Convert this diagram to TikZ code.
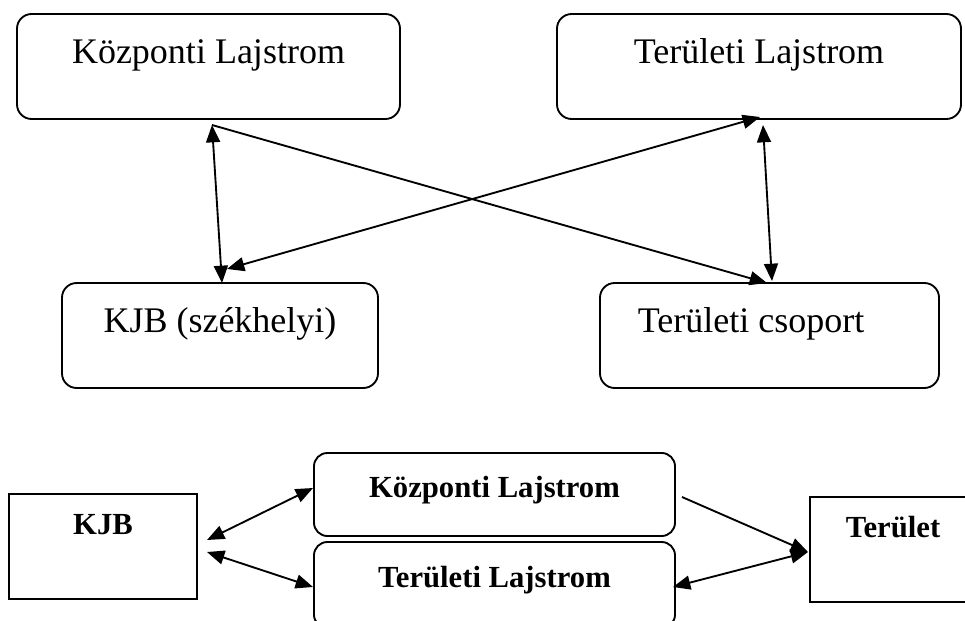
\documentclass[tikz,border=0pt]{standalone}
\usepackage{fontspec}
\setmainfont{Liberation Serif}
\usetikzlibrary{arrows.meta}

\begin{document}
\begin{tikzpicture}[
  x=0.75pt, y=-0.75pt,
  line width=1.4pt,
  roundbox/.style={draw, rounded corners=11pt, inner sep=0pt, outer sep=0pt},
  plainbox/.style={draw, inner sep=0pt, outer sep=0pt},
  bigtext/.style={inner sep=0pt, font=\fontsize{27}{30}\selectfont},
  boldtext/.style={inner sep=0pt, font=\fontsize{23}{26}\selectfont\bfseries},
  tip/.tip={Triangle[length=13pt, width=10.5pt]},
  link/.style={line width=1.4pt, -tip},
  dlink/.style={line width=1.4pt, tip-tip}
]
\useasboundingbox (0,0) rectangle (965,621);
\clip (0,0) rectangle (965,621);

% upper diagram: registers and local units
\node[roundbox, minimum width=383*0.75pt, minimum height=105*0.75pt] (kozp) at (208.5,66.5) {};
\node[roundbox, minimum width=404*0.75pt, minimum height=105*0.75pt] (terl) at (759,66.5) {};
\node[roundbox, minimum width=316*0.75pt, minimum height=105*0.75pt] (kjbsz) at (220,335.5) {};
\node[roundbox, minimum width=339*0.75pt, minimum height=105*0.75pt] (tcsop) at (769.5,335.5) {};

\node[bigtext, anchor=base] (kozpT) at (208.5,63) {Központi Lajstrom};
\node[bigtext, anchor=base] (terlT) at (759,63) {Területi Lajstrom};
\node[bigtext, anchor=base] (kjbszT) at (220,332) {KJB (székhelyi)};
\node[bigtext, anchor=base west] (tcsopT) at (637,332) {Területi csoport};

% arrow end points on the box edges
\coordinate (kozpS) at (212,125);
\coordinate (kjbszN) at (222,283);
\coordinate (kjbszNE) at (227,269);
\coordinate (terlSW) at (760,117);
\coordinate (terlS) at (763,125);
\coordinate (tcsopNW) at (767,283);
\coordinate (tcsopN) at (772,281);

\draw[dlink] (kozpS) -- (kjbszN);
\draw[link] (kozpS) -- (tcsopNW);
\draw[dlink] (kjbszNE) -- (terlSW);
\draw[dlink] (terlS) -- (tcsopN);

% lower diagram: KJB, the two registers and the area
\node[plainbox, minimum width=188*0.75pt, minimum height=105*0.75pt] (kjb) at (103,546.5) {};
\node[roundbox, rounded corners=10pt, minimum width=361*0.75pt, minimum height=83*0.75pt] (kozp2) at (494.5,494.5) {};
\node[roundbox, rounded corners=10pt, minimum width=361*0.75pt, minimum height=86*0.75pt] (terl2) at (494.5,585) {};
\node[plainbox, minimum width=165*0.75pt, minimum height=105*0.75pt] (ter) at (892.5,549.5) {};
\draw[line width=2pt] (ter.north west) -- (ter.south west);

\node[boldtext, anchor=base] (kjbT) at (103,534) {KJB};
\node[boldtext, anchor=base] (kozp2T) at (494.5,497) {Központi Lajstrom};
\node[boldtext, anchor=base] (terl2T) at (494.5,587) {Területi Lajstrom};
\node[boldtext, anchor=base west] (terT) at (845,537) {Terület};

\coordinate (kjbE1) at (207,540);
\coordinate (kjbE2) at (207,552);
\coordinate (kozp2W) at (313,488);
\coordinate (kozp2E) at (682,497);
\coordinate (terl2W) at (313,587);
\coordinate (terl2E) at (673,587);
\coordinate (terW) at (808,552);

\draw[dlink] (kjbE1) -- (kozp2W);
\draw[dlink] (kjbE2) -- (terl2W);
\draw[link] (kozp2E) -- (terW);
\draw[dlink] (terl2E) -- (terW);
\end{tikzpicture}
\end{document}
